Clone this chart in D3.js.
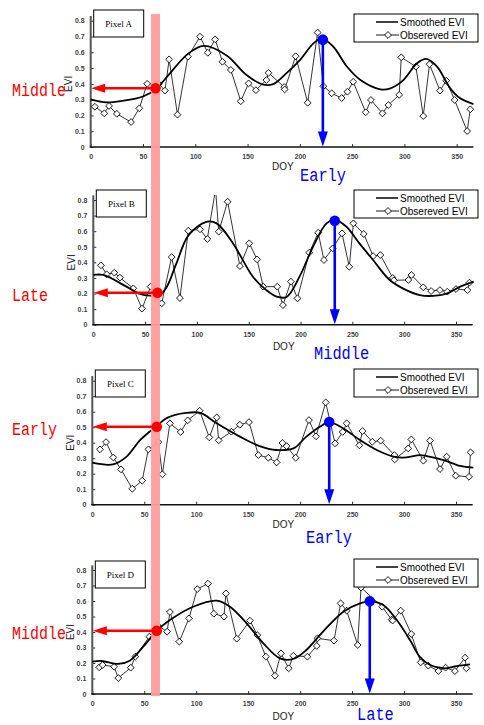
<!DOCTYPE html>
<html><head><meta charset="utf-8">
<script src="https://cdn.jsdelivr.net/npm/d3@7"></script>
<style>body{margin:0;background:#fff}svg{display:block}</style>
</head><body>
<svg id="c" width="484" height="725"></svg>
<script>
// ---------- data ----------
const xTicks = [0, 50, 100, 150, 200, 250, 300, 350];
const yTicks = [0, 0.1, 0.2, 0.3, 0.4, 0.5, 0.6, 0.7, 0.8];
const panelNames = ["Pixel A", "Pixel B", "Pixel C", "Pixel D"];
const legendLabels = ["Smoothed EVI", "Obsereved EVI"];
const startLabels = ["Middle", "Late", "Early", "Middle"];
const peakLabels = ["Early", "Middle", "Early", "Late"];
const startDoy = 62;
const startEvi = [0.372, 0.205, 0.503, 0.408];
const peakDoy = [222, 233, 228, 267];
const peakEvi = [0.68, 0.667, 0.533, 0.598];

const smoothA = [[0,0.302],[15,0.283],[30,0.292],[50,0.32],[63,0.37],[73,0.445],[93,0.59],[108,0.64],[130,0.58],[149,0.456],[165,0.395],[175,0.40],[187,0.466],[200,0.55],[213,0.656],[221,0.688],[232,0.635],[245,0.51],[258,0.424],[277,0.365],[286,0.37],[299,0.424],[312,0.53],[321,0.558],[331,0.51],[344,0.37],[353,0.31],[366,0.272]];
const obsA = [[4,0.255],[13,0.213],[17.5,0.26],[25,0.21],[38.6,0.158],[46.5,0.245],[54,0.40],[65,0.40],[71,0.357],[75,0.555],[83,0.205],[93,0.572],[104.5,0.699],[112,0.597],[119,0.682],[126,0.54],[134,0.488],[143.5,0.29],[151,0.403],[158,0.36],[168,0.424],[170,0.47],[185,0.38],[185.5,0.365],[196,0.575],[207.5,0.28],[217,0.725],[222.5,0.385],[230.5,0.34],[240,0.31],[245.5,0.35],[251,0.413],[263,0.22],[268,0.298],[279,0.213],[284.6,0.266],[295,0.33],[297,0.568],[311,0.509],[318,0.196],[324,0.524],[334,0.357],[340,0.42],[348,0.298],[360,0.101],[363,0.239]];

const smoothB = [[0,0.319],[9.6,0.319],[32,0.244],[45,0.197],[55,0.186],[64,0.19],[71,0.244],[80,0.39],[92,0.575],[109,0.66],[119,0.65],[135,0.52],[154,0.308],[167,0.222],[177,0.18],[186.5,0.178],[199,0.308],[212,0.50],[225,0.65],[233,0.672],[244,0.63],[257,0.52],[270,0.415],[286,0.287],[302,0.222],[315,0.19],[328,0.185],[341,0.20],[354,0.244],[367,0.276]];
const obsB = [[7.4,0.381],[12.9,0.323],[20.3,0.334],[25.7,0.302],[38.6,0.233],[47,0.103],[55.3,0.244],[66,0.137],[75.6,0.434],[83.6,0.171],[91.7,0.603],[103,0.612],[110,0.55],[118,0.87],[121,0.597],[129.6,0.789],[141.5,0.376],[150.5,0.522],[158,0.419],[164,0.244],[177.5,0.244],[183,0.126],[190.7,0.276],[197,0.169],[208.4,0.462],[217,0.59],[222.6,0.415],[231,0.49],[240,0.586],[247,0.372],[251,0.65],[261,0.582],[270,0.44],[277,0.447],[289,0.30],[290,0.285],[304,0.287],[307,0.319],[318.4,0.24],[326,0.216],[334.5,0.222],[341.6,0.212],[350,0.229],[361,0.222],[363,0.27]];

const smoothC = [[0,0.271],[20,0.26],[33,0.31],[46,0.417],[61,0.503],[72,0.56],[90,0.592],[104,0.592],[119.7,0.525],[142,0.439],[161,0.378],[177,0.353],[193.5,0.363],[206,0.439],[219,0.503],[228,0.533],[241.6,0.492],[257.6,0.417],[273.7,0.353],[290,0.31],[302.5,0.305],[315,0.32],[321.8,0.314],[338,0.288],[354,0.25],[366.7,0.239]];
const obsC = [[7.4,0.357],[13.2,0.404],[20.2,0.305],[27.6,0.228],[38.5,0.103],[48,0.155],[54,0.357],[63.5,0.404],[67.4,0.196],[74.7,0.525],[85,0.469],[91.8,0.544],[103.3,0.606],[112.6,0.434],[119.7,0.563],[121.6,0.415],[133.8,0.471],[142,0.516],[150.8,0.533],[159.8,0.32],[169.4,0.303],[177.4,0.273],[183,0.398],[187,0.378],[195.7,0.303],[208.5,0.546],[215.3,0.441],[224.6,0.66],[233.6,0.396],[241,0.469],[244.8,0.525],[257,0.383],[260,0.475],[269.5,0.406],[277.5,0.413],[290.7,0.32],[291,0.292],[304,0.363],[307,0.421],[318.6,0.284],[325,0.413],[334.6,0.23],[341,0.31],[349.7,0.187],[362.5,0.18],[364,0.338]];

const smoothD = [[0,0.209],[9,0.213],[25,0.194],[36,0.215],[49,0.305],[62,0.408],[74.7,0.477],[97,0.563],[119.7,0.602],[132.5,0.563],[148.5,0.456],[164.6,0.327],[180.6,0.23],[193.5,0.226],[206,0.284],[222,0.402],[241.6,0.531],[257.6,0.585],[267,0.598],[280,0.574],[293,0.477],[305.7,0.348],[315,0.241],[325,0.187],[338,0.166],[350.7,0.18],[363.5,0.191]];
const obsD = [[6.7,0.172],[10,0.187],[21,0.176],[25,0.103],[37,0.17],[41.4,0.241],[54.9,0.37],[62.6,0.445],[72,0.402],[74.7,0.529],[83.7,0.338],[93,0.488],[101,0.677],[111.3,0.712],[117,0.518],[126.7,0.499],[128.6,0.649],[139,0.357],[151.7,0.473],[158.8,0.38],[167,0.241],[175.8,0.118],[181.6,0.262],[189,0.166],[193.5,0.247],[207,0.241],[216,0.31],[216.6,0.359],[232.6,0.344],[239,0.585],[244.8,0.538],[255.4,0.316],[258.6,0.686],[279,0.563],[288,0.48],[289,0.474],[296.8,0.538],[307,0.387],[316,0.204],[323.4,0.183],[333,0.148],[340,0.17],[349,0.148],[358.7,0.234],[360,0.166]];

const smoothSeries = [smoothA, smoothB, smoothC, smoothD];
const obsSeries = [obsA, obsB, obsC, obsD];

// ---------- layout ----------
const layout = [
  {x0:90.7, x350:456.7, y0:147,   y8:20.7,  legY:14,  boxY:10,  peakX:300, peakBase:181, doyBase:170},
  {x0:93.3, x350:456,   y0:324.7, y8:200,   legY:190, boxY:190, peakX:314, peakBase:359, doyBase:350},
  {x0:92.3, x350:456,   y0:504.7, y8:380.7, legY:369, boxY:370, peakX:306, peakBase:543, doyBase:528},
  {x0:92.3, x350:456,   y0:694,   y8:570,   legY:559, boxY:561, peakX:357, peakBase:719.5, doyBase:720}
];

const svg = d3.select("#c");
const defs = svg.append("defs");
const RED = "#ff0000", BLUE = "#0000ff";

const scales = layout.map(L => ({
  x: d3.scaleLinear().domain([0, 350]).range([L.x0, L.x350]),
  y: d3.scaleLinear().domain([0, 0.8]).range([L.y0, L.y8])
}));

function diamond(g, px, py) {
  const r = 3.4;
  g.append("path")
    .attr("d", `M${px},${py - r}L${px + r},${py}L${px},${py + r}L${px - r},${py}Z`)
    .attr("fill", "#fff").attr("stroke", "#000").attr("stroke-width", 0.9);
}

layout.forEach((L, i) => {
  const {x, y} = scales[i];
  const g = svg.append("g");

  defs.append("clipPath").attr("id", "clip" + i).append("rect")
    .attr("x", x(0) - 5).attr("y", y(0.832))
    .attr("width", x(370) - x(0) + 10).attr("height", y(-0.02) - y(0.832));

  // axes
  const ya = g.append("g").attr("transform", `translate(${x(0)},0)`)
    .call(d3.axisLeft(y).tickValues(yTicks).tickSize(-3).tickSizeOuter(0).tickPadding(6)
      .tickFormat(d => d === 0 ? "0" : d3.format(".1f")(d)));
  const xa = g.append("g").attr("transform", `translate(0,${y(0)})`)
    .call(d3.axisBottom(x).tickValues(xTicks).tickSize(-3).tickSizeOuter(0).tickPadding(7));
  [ya, xa].forEach(a => {
    a.select(".domain").remove();
    a.selectAll("text").attr("font-family", "Liberation Sans, Arial, sans-serif")
      .attr("font-size", 7).attr("font-weight", "bold").attr("fill", "#444");
    a.selectAll("line").attr("stroke", "#333").attr("stroke-width", 1);
  });
  g.append("line").attr("x1", x(0)).attr("x2", x(0)).attr("y1", y(0)).attr("y2", y(0.83))
    .attr("stroke", "#555").attr("stroke-width", 2);
  g.append("line").attr("x1", x(0) - 1).attr("x2", x(366)).attr("y1", y(0)).attr("y2", y(0))
    .attr("stroke", "#111").attr("stroke-width", 1.6);

  // axis titles
  g.append("text").attr("x", x(0) + (x(350) - x(0)) * 0.525).attr("y", L.doyBase)
    .attr("text-anchor", "middle").attr("font-family", "Liberation Sans, Arial, sans-serif")
    .attr("font-size", 10).attr("fill", "#222").text("DOY");
  g.append("text").attr("transform", `translate(${x(0) - 18.5},${(y(0) + y(0.8)) / 2}) rotate(-90)`)
    .attr("text-anchor", "middle").attr("font-family", "Liberation Sans, Arial, sans-serif")
    .attr("font-size", 10).attr("fill", "#222").text("EVI");

  // observed
  const og = g.append("g").attr("clip-path", `url(#clip${i})`);
  og.append("path").datum(obsSeries[i])
    .attr("d", d3.line().x(d => x(d[0])).y(d => y(d[1])))
    .attr("fill", "none").attr("stroke", "#000").attr("stroke-width", 0.8);
  obsSeries[i].forEach(d => diamond(og, x(d[0]), y(d[1])));

  // smoothed
  g.append("path").datum(smoothSeries[i])
    .attr("d", d3.line().curve(d3.curveCatmullRom.alpha(0.5)).x(d => x(d[0])).y(d => y(d[1])))
    .attr("fill", "none").attr("stroke", "#000").attr("stroke-width", 1.8);

  // panel name box
  g.append("rect").attr("x", x(0) + 3).attr("y", L.boxY).attr("width", 50).attr("height", 27)
    .attr("fill", "#fff").attr("stroke", "#000").attr("stroke-width", 1);
  g.append("text").attr("x", x(0) + 28).attr("y", L.boxY + 16.5).attr("text-anchor", "middle")
    .attr("font-family", "Liberation Serif, Times New Roman, serif").attr("font-size", 9)
    .text(panelNames[i]);

  // legend
  const lg = g.append("g").attr("transform", `translate(354,${L.legY})`);
  lg.append("rect").attr("width", 124).attr("height", 28).attr("fill", "#fff")
    .attr("stroke", "#000").attr("stroke-width", 1);
  lg.append("line").attr("x1", 22).attr("x2", 44).attr("y1", 8).attr("y2", 8)
    .attr("stroke", "#000").attr("stroke-width", 1.5);
  lg.append("line").attr("x1", 22).attr("x2", 45).attr("y1", 21).attr("y2", 21)
    .attr("stroke", "#000").attr("stroke-width", 0.9);
  diamond(lg, 34, 21);
  legendLabels.forEach((t, k) => {
    lg.append("text").attr("x", 46).attr("y", 11.5 + k * 13)
      .attr("font-family", "Liberation Sans, Arial, sans-serif").attr("font-size", 10)
      .attr("fill", "#000").text(t);
  });
});

// pink band across panels
const sA = scales[0];
svg.append("rect").attr("x", sA.x(startDoy) - 4.5).attr("y", 14).attr("width", 9)
  .attr("height", scales[3].y(0) + 2 - 14).attr("fill", "#ff9c9c").attr("opacity", 0.95);

// arrows, dots, labels
layout.forEach((L, i) => {
  const {x, y} = scales[i];
  const g = svg.append("g");
  // red start arrow
  const rx = x(startDoy), ry = y(startEvi[i]), tip = x(0) + 0.5;
  g.append("line").attr("x1", rx).attr("x2", tip + 10).attr("y1", ry).attr("y2", ry)
    .attr("stroke", RED).attr("stroke-width", 2.6);
  g.append("path").attr("d", `M${tip},${ry}L${tip + 14},${ry - 4.5}L${tip + 14},${ry + 4.5}Z`).attr("fill", RED);
  g.append("circle").attr("cx", rx).attr("cy", ry).attr("r", 5.3).attr("fill", RED);
  g.append("text").attr("x", 12).attr("y", ry + 8)
    .attr("font-family", "Liberation Mono, DejaVu Sans Mono, monospace").attr("font-size", 19)
    .attr("fill", RED).attr("textLength", startLabels[i].length * 9).attr("lengthAdjust", "spacingAndGlyphs")
    .text(startLabels[i]);

  // blue peak arrow
  const bx = x(peakDoy[i]), by = y(peakEvi[i]), btip = y(0) - 0.5;
  g.append("line").attr("x1", bx).attr("x2", bx).attr("y1", by).attr("y2", btip - 10)
    .attr("stroke", BLUE).attr("stroke-width", 2.6);
  g.append("path").attr("d", `M${bx},${btip}L${bx - 5},${btip - 15}L${bx + 5},${btip - 15}Z`).attr("fill", BLUE);
  g.append("circle").attr("cx", bx).attr("cy", by).attr("r", 5.3).attr("fill", BLUE);
  g.append("text").attr("x", L.peakX).attr("y", L.peakBase)
    .attr("font-family", "Liberation Mono, DejaVu Sans Mono, monospace").attr("font-size", 19)
    .attr("fill", BLUE).attr("textLength", peakLabels[i].length * 9.2).attr("lengthAdjust", "spacingAndGlyphs")
    .text(peakLabels[i]);
});
</script>
</body></html>
